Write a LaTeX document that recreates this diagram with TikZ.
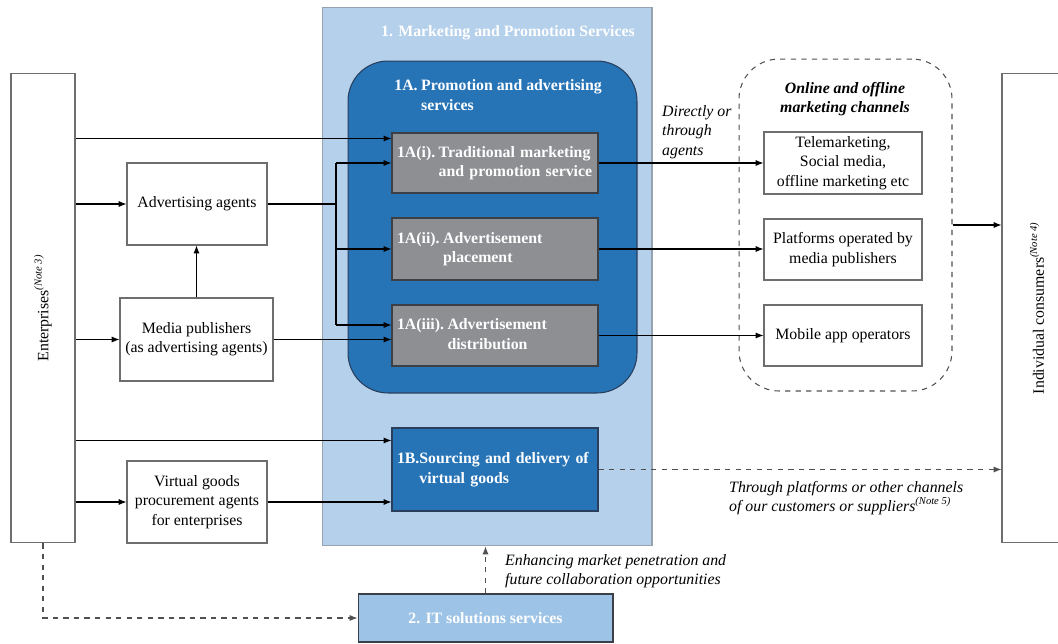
\documentclass[tikz,border=0pt]{standalone}
\usepackage{fontspec}
\setmainfont{Liberation Serif}
\usetikzlibrary{positioning,arrows.meta}
\definecolor{mktblue}{RGB}{180,208,234}
\definecolor{mktedge}{RGB}{150,162,175}
\definecolor{promoblue}{RGB}{38,115,182}
\definecolor{promoedge}{RGB}{40,62,92}
\definecolor{svcgray}{RGB}{142,143,147}
\definecolor{svcedge}{RGB}{60,64,70}
\definecolor{itblue}{RGB}{157,195,230}
\definecolor{boxgray}{RGB}{110,110,110}
\definecolor{dashgray}{RGB}{80,80,80}
\newcommand\dsize{\fontsize{9}{11}\selectfont}
\newcommand\note[1]{\textsuperscript{\itshape (#1)}}
\tikzset{
  plainbox/.style={draw=boxgray, line width=0.6pt, fill=white, align=center, font=\dsize, inner sep=2pt},
  svcbox/.style={draw=svcedge, line width=0.6pt, fill=svcgray, text=white, font=\dsize\bfseries,
    minimum width=4.12cm, text width=3.92cm, align=left, inner sep=0.1cm},
  arr/.style={-{Latex[length=4.5pt,width=3.5pt]}, line width=0.6pt},
  dasharr/.style={-{Latex[length=4.5pt,width=3.5pt]}, dashed, draw=dashgray, line width=0.6pt}
}
\begin{document}
\begin{tikzpicture}[x=0.02cm, y=-0.02cm]
\useasboundingbox (0,0) rectangle (1058,643);
% 1. Marketing and promotion services
\node[draw=mktedge, line width=0.6pt, fill=mktblue, minimum width=6.6cm, minimum height=10.78cm] (mkt) at (487,276.5) {};
\node[text=white, font=\dsize\bfseries] (mkttitle) at (508,33) {1. Marketing and Promotion Services};
\node[draw=promoedge, line width=0.6pt, fill=promoblue, rounded corners=0.8cm, minimum width=5.78cm, minimum height=6.64cm] (promo) at (492.5,227) {};
\node[text=white, font=\dsize\bfseries, anchor=north west, inner sep=0pt] (promotitle) at (394,77)
  {\begin{tabular}{@{}l@{\hspace{2pt}}l@{}}1A. & Promotion and advertising\\ & services\end{tabular}};
% 1A(i)-(iii), 1B
\node[svcbox, minimum height=1.2cm] (s1) at (495,163)
  {\begin{tabular}{@{}l@{\hspace{2pt}}l@{}}1A(i). & Traditional marketing\\ & and promotion service\end{tabular}};
\node[svcbox, minimum height=1.24cm] (s2) at (495,249)
  {\begin{tabular}{@{}l@{\hspace{2pt}}l@{}}1A(ii). & Advertisement\\ & placement\end{tabular}};
\node[svcbox, minimum height=1.22cm] (s3) at (495,335.5)
  {\begin{tabular}{@{}l@{\hspace{2pt}}l@{}}1A(iii). & Advertisement\\ & distribution\end{tabular}};
\node[svcbox, fill=promoblue, draw=promoedge, minimum height=1.66cm] (s1b) at (495,469.5)
  {\begin{tabular}{@{}l@{}l@{}}1B. & Sourcing and delivery of\\ & virtual goods\end{tabular}};
% 2. IT solutions
\node[draw=svcedge, line width=0.6pt, fill=itblue, text=white, font=\dsize\bfseries, minimum width=5.1cm, minimum height=0.96cm] (it) at (485.5,618) {2. IT solutions services};

% Enterprises and consumers
\node[plainbox, minimum width=1.28cm, minimum height=9.4cm] (ent) at (43,308) {};
\node[rotate=90, font=\dsize] (entlabel) at (ent) {Enterprises\note{Note 3}};
\node[plainbox, minimum width=1.24cm, minimum height=9.4cm] (cons) at (1033,308) {};
\node[rotate=90, font=\dsize] (conslabel) at (1037,308) {Individual consumers\note{Note 4}};

% Agents
\node[plainbox, minimum width=2.8cm, minimum height=1.64cm] (adv) at (197,204) {Advertising agents};
\node[plainbox, minimum width=3.06cm, minimum height=1.66cm] (media) at (196.5,339.5) {Media publishers\\(as advertising agents)};
\node[plainbox, minimum width=2.8cm, minimum height=1.64cm] (vg) at (197,502) {Virtual goods\\procurement agents\\for enterprises};

% Marketing channels
\node[draw=dashgray, dashed, line width=0.6pt, rounded corners=0.8cm, minimum width=4.26cm, minimum height=6.64cm] (chan) at (845.5,225) {};
\node[font=\dsize\bfseries\itshape, align=center] (chantitle) at (845,99) {Online and offline\\marketing channels};
\node[plainbox, minimum width=3.16cm, minimum height=1.24cm] (tele) at (843,163) {Telemarketing,\\Social media,\\offline marketing etc};
\node[plainbox, minimum width=3.16cm, minimum height=1.22cm] (plat) at (843,249.5) {Platforms operated by\\media publishers};
\node[plainbox, minimum width=3.16cm, minimum height=1.22cm] (mob) at (843,335.5) {Mobile app operators};

% Labels
\node[font=\dsize\itshape, align=left, anchor=west] (via) at (656,132) {Directly or\\through\\agents};
\node[font=\dsize\itshape, align=left, anchor=north west] (viaplat) at (723,475) {Through platforms or other channels\\of our customers or suppliers\note{Note 5}};
\node[font=\dsize\itshape, align=left, anchor=west] (enh) at (499,571) {Enhancing market penetration and\\future collaboration opportunities};

% Junction
\coordinate (inA) at ([yshift=-0.12cm]s1.north west);
\coordinate (inB) at ([yshift=-0.26cm]s1b.north west);
\coordinate (jtop) at (336,163);
\coordinate (jbot) at (336,325);

% Connectors
\draw[arr] (ent.east |- inA) -- (inA);
\draw[arr] (ent.east |- adv.west) -- (adv.west);
\draw[arr] (ent.east |- media.west) -- (media.west);
\draw[arr] (ent.east |- inB) -- (inB);
\draw[arr] (ent.east |- vg.west) -- (vg.west);
\draw[arr] (media.north) -- (media.north |- adv.south);
\draw[line width=0.6pt] (adv.east) -- (adv.east -| jtop);
\draw[line width=0.6pt] (jtop) -- (jbot);
\draw[arr] (jtop) -- (jtop -| s1.west);
\draw[arr] (jtop |- s2.west) -- (s2.west);
\draw[arr] (jbot) -- (jbot -| s3.west);
\draw[arr] (media.east) -- (media.east -| s3.west);
\draw[arr] (vg.east) -- (vg.east -| s1b.west);
\draw[arr] (s1.east) -- (s1.east -| tele.west);
\draw[arr] (s2.east) -- (s2.east -| plat.west);
\draw[arr] (s3.east) -- (s3.east -| mob.west);
\draw[arr] (chan.east) -- (chan.east -| cons.west);
\draw[dasharr] (s1b.east) -- (s1b.east -| cons.west);
\draw[dasharr] (ent.south) |- (it.west);
\draw[dasharr] (it.north) -- (it.north |- mkt.south);
\end{tikzpicture}
\end{document}
